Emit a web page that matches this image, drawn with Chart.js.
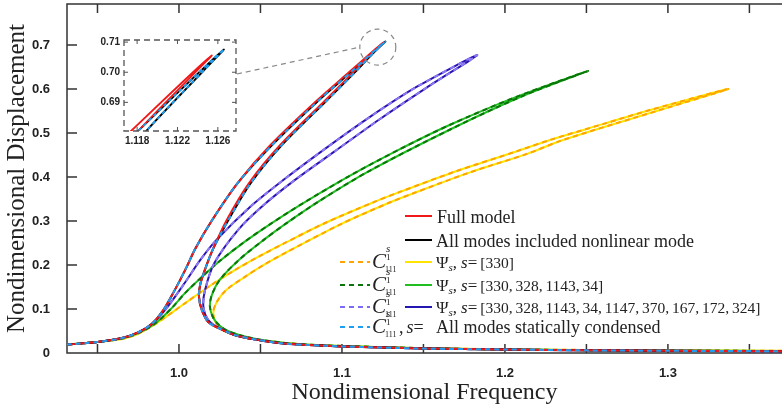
<!DOCTYPE html>
<html>
<head>
<meta charset="utf-8">
<script src="https://cdn.jsdelivr.net/npm/chart.js@4.4.1/dist/chart.umd.min.js"></script>
<style>
  body { margin: 0; background: #fff; }
  #wrap { position: relative; width: 782px; height: 410px; }
  #mainChart { position: absolute; left: 0; top: 0; }
  #insetChart { position: absolute; left: 95px; top: 33px; }
</style>
</head>
<body>
<div id="wrap">
  <canvas id="mainChart" width="782" height="410"></canvas>
  <canvas id="insetChart" width="150" height="118"></canvas>
</div>
<script>
// ---- data (frequency, displacement) ----
// full model (red)
const fullX = [0.931, 0.95, 0.965, 0.975, 0.983, 0.990, 0.997, 1.004, 1.010, 1.020, 1.036, 1.056, 1.085, 1.105, 1.1174, 1.1254,
  1.1181, 1.1075, 1.090, 1.062, 1.043, 1.029, 1.021, 1.016, 1.013, 1.0123, 1.014, 1.018, 1.024, 1.034, 1.048, 1.063, 1.08, 1.10, 1.15, 1.20, 1.25, 1.30, 1.37];
const fullY = [0.019, 0.025, 0.034, 0.047, 0.065, 0.095, 0.14, 0.19, 0.237, 0.30, 0.386, 0.472, 0.575, 0.640, 0.6805, 0.7056,
  0.6805, 0.640, 0.575, 0.472, 0.386, 0.30, 0.237, 0.19, 0.155, 0.127, 0.098, 0.070, 0.057, 0.041, 0.030, 0.022, 0.018, 0.015, 0.010, 0.008, 0.006, 0.005, 0.004];
// all modes (black) / statically condensed (light blue dashed)
const condX = [0.931, 0.95, 0.965, 0.975, 0.983, 0.990, 0.997, 1.004, 1.010, 1.020, 1.036, 1.057, 1.086, 1.106, 1.1181, 1.1266,
  1.1189, 1.1085, 1.091, 1.063, 1.044, 1.030, 1.021, 1.016, 1.013, 1.0123, 1.014, 1.018, 1.024, 1.034, 1.048, 1.063, 1.08, 1.10, 1.15, 1.20, 1.25, 1.30, 1.37];
const condY = [0.019, 0.025, 0.034, 0.047, 0.065, 0.095, 0.14, 0.19, 0.237, 0.30, 0.386, 0.472, 0.575, 0.640, 0.6805, 0.7076,
  0.6805, 0.640, 0.575, 0.472, 0.386, 0.30, 0.237, 0.19, 0.155, 0.127, 0.098, 0.070, 0.057, 0.041, 0.030, 0.022, 0.018, 0.015, 0.010, 0.008, 0.006, 0.005, 0.004];
// psi, 9 modes (purple)
const purpX = [0.931, 0.95, 0.965, 0.975, 0.984, 0.993, 1.0035, 1.013, 1.023, 1.0436, 1.064, 1.09, 1.117, 1.146, 1.183,
  1.152, 1.1227, 1.0955, 1.070, 1.0506, 1.0363, 1.0218, 1.016, 1.015, 1.018, 1.024, 1.034, 1.048, 1.063, 1.08, 1.10, 1.15, 1.20, 1.25, 1.30, 1.37];
const purpY = [0.019, 0.025, 0.034, 0.047, 0.068, 0.105, 0.159, 0.211, 0.257, 0.332, 0.393, 0.465, 0.536, 0.605, 0.677,
  0.603, 0.530, 0.458, 0.390, 0.332, 0.280, 0.205, 0.143, 0.105, 0.075, 0.058, 0.041, 0.030, 0.022, 0.018, 0.015, 0.010, 0.008, 0.006, 0.005, 0.004];
// psi, 4 modes (green)
const greenX = [0.931, 0.95, 0.965, 0.975, 0.985, 0.995, 1.0037, 1.015, 1.025, 1.04, 1.056, 1.076, 1.105, 1.135, 1.166, 1.207, 1.251,
  1.2115, 1.167, 1.1155, 1.086, 1.066, 1.052, 1.0366, 1.025, 1.020, 1.019, 1.021, 1.025, 1.030, 1.038, 1.05, 1.065, 1.08, 1.10, 1.15, 1.20, 1.25, 1.30, 1.37];
const greenY = [0.019, 0.025, 0.033, 0.045, 0.066, 0.10, 0.136, 0.176, 0.209, 0.252, 0.293, 0.340, 0.403, 0.462, 0.518, 0.582, 0.641,
  0.585, 0.509, 0.411, 0.345, 0.295, 0.257, 0.211, 0.166, 0.13, 0.105, 0.08, 0.062, 0.050, 0.040, 0.030, 0.023, 0.019, 0.016, 0.011, 0.008, 0.0065, 0.0055, 0.0045];
// psi, 1 mode (yellow)
const yelX = [0.931, 0.95, 0.965, 0.974, 0.982, 0.990, 1.0037, 1.02, 1.035, 1.05, 1.065, 1.09, 1.121, 1.1356, 1.17, 1.207, 1.2276, 1.26, 1.289, 1.337,
  1.295, 1.2356, 1.214, 1.179, 1.1446, 1.130, 1.100, 1.065, 1.052, 1.040, 1.029, 1.023, 1.021, 1.023, 1.028, 1.039, 1.05, 1.065, 1.08, 1.10, 1.15, 1.20, 1.25, 1.30, 1.37];
const yelY = [0.019, 0.025, 0.032, 0.042, 0.058, 0.077, 0.113, 0.155, 0.19, 0.221, 0.25, 0.296, 0.345, 0.366, 0.413, 0.458, 0.484, 0.52, 0.552, 0.600,
  0.552, 0.484, 0.453, 0.411, 0.364, 0.343, 0.294, 0.227, 0.200, 0.172, 0.143, 0.115, 0.090, 0.066, 0.050, 0.036, 0.029, 0.023, 0.019, 0.016, 0.011, 0.0085, 0.007, 0.006, 0.005];

// ticks
const xTicks = [0.95, 1.0, 1.05, 1.1, 1.15, 1.2, 1.25, 1.3, 1.35];
const xTickLabels = ['', '1.0', '', '1.1', '', '1.2', '', '1.3', ''];
const yTicks = [0, 0.1, 0.2, 0.3, 0.4, 0.5, 0.6, 0.7];
const yTickLabels = ['0', '0.1', '0.2', '0.3', '0.4', '0.5', '0.6', '0.7'];
const insetXTicks = [1.118, 1.122, 1.126];
const insetXLabels = ['1.118', '1.122', '1.126'];
const insetYTicks = [0.69, 0.70, 0.71];
const insetYLabels = ['0.69', '0.70', '0.71'];

// legend texts
const legendNames = ['Full model', 'All modes included nonlinear mode'];
const psiSets = ['[330]', '[330, 328, 1143, 34]', '[330, 328, 1143, 34, 1147, 370, 167, 172, 324]'];
const condensedName = 'All modes statically condensed';

const pts = (xs, ys) => xs.map((x, i) => ({ x: x, y: ys[i] }));

function makeDatasets(w) {
  return [
    { data: pts(condX, condY), borderColor: '#1e9ef0', borderWidth: w, borderDash: [5, 4] },
    { data: pts(fullX, fullY), borderColor: '#f01818', borderWidth: w },
    { data: pts(condX, condY), borderColor: '#000000', borderWidth: w },
    { data: pts(purpX, purpY), borderColor: '#8a78f4', borderWidth: w, borderDash: [5, 4] },
    { data: pts(purpX, purpY), borderColor: '#2a14b0', borderWidth: w },
    { data: pts(greenX, greenY), borderColor: '#0a760a', borderWidth: w, borderDash: [5, 4] },
    { data: pts(greenX, greenY), borderColor: '#1fbf1f', borderWidth: w },
    { data: pts(yelX, yelY), borderColor: '#ffa400', borderWidth: w, borderDash: [5, 4] },
    { data: pts(yelX, yelY), borderColor: '#ffe400', borderWidth: w },
  ].map(d => Object.assign(d, { showLine: true, pointRadius: 0, tension: 0.3, fill: false }));
}

const AXIS = '#333';

// frame with inward ticks, plus zoom circle and connector
const framePlugin = {
  id: 'frame',
  beforeDatasetsDraw(chart) {
    const { ctx, chartArea: a, scales: { x, y } } = chart;
    ctx.save();
    ctx.strokeStyle = AXIS;
    ctx.lineWidth = 1.5;
    ctx.beginPath();
    ctx.moveTo(a.right, a.top); ctx.lineTo(a.left, a.top);
    ctx.lineTo(a.left, a.bottom); ctx.lineTo(a.right, a.bottom);
    xTicks.forEach(v => {
      const p = x.getPixelForValue(v);
      ctx.moveTo(p, a.bottom); ctx.lineTo(p, a.bottom - 9);
      ctx.moveTo(p, a.top); ctx.lineTo(p, a.top + 9);
    });
    yTicks.forEach(v => {
      const p = y.getPixelForValue(v);
      ctx.moveTo(a.left, p); ctx.lineTo(a.left + 10, p);
    });
    ctx.stroke();
    ctx.restore();
  },
  afterDraw(chart) {
    const { ctx, scales: { x, y } } = chart;
    ctx.save();
    ctx.strokeStyle = '#888';
    ctx.lineWidth = 1.2;
    ctx.setLineDash([5, 4]);
    const cx = x.getPixelForValue(1.122), cy = y.getPixelForValue(0.695);
    ctx.beginPath();
    ctx.arc(cx, cy, 18, 0, Math.PI * 2);
    ctx.stroke();
    ctx.beginPath();
    ctx.moveTo(237, 74);
    ctx.lineTo(cx - 18, cy);
    ctx.stroke();
    ctx.restore();
    drawLegend(ctx);
  }
};

function sample(ctx, x1, x2, y, color, dashed) {
  ctx.save();
  ctx.strokeStyle = color;
  ctx.lineWidth = 2;
  ctx.setLineDash(dashed ? [5, 4] : []);
  ctx.beginPath();
  ctx.moveTo(x1, y); ctx.lineTo(x2, y);
  ctx.stroke();
  ctx.restore();
}

function put(ctx, text, x, y, font) {
  ctx.font = font;
  ctx.fillText(text, x, y);
  return x + ctx.measureText(text).width;
}

const SERIF = '"Liberation Serif", "DejaVu Serif", serif';

function drawC(ctx, x, base) {
  const e = put(ctx, 'C', x, base, 'italic 21px ' + SERIF);
  put(ctx, 's', e, base - 16, 'italic 11px ' + SERIF);
  put(ctx, '1', e, base - 8, '9px ' + SERIF);
  return put(ctx, '111', e - 1, base + 4, '8px ' + SERIF);
}

function drawPsi(ctx, x, base, set) {
  let e = put(ctx, 'Ψ', x, base, '17px ' + SERIF);
  e = put(ctx, 's', e, base + 3, 'italic 11px ' + SERIF);
  e = put(ctx, ',', e, base, '17px ' + SERIF);
  e = put(ctx, 's', e + 4, base, 'italic 17px ' + SERIF);
  e = put(ctx, '=', e, base, '17px ' + SERIF);
  ctx.wordSpacing = '-1px';
  put(ctx, set, e + 3, base, '15.5px ' + SERIF);
  ctx.wordSpacing = '0px';
}

function drawLegend(ctx) {
  ctx.save();
  ctx.fillStyle = '#222';
  ctx.textBaseline = 'alphabetic';
  const rows = [216, 240, 262, 285, 307, 327];
  const dashCol = ['#ffa400', '#0a760a', '#7b6cf6', '#1e9ef0'];
  const solidCol = ['#ffe400', '#1fbf1f', '#2416b0'];
  sample(ctx, 405, 432, rows[0], '#f01818', false);
  put(ctx, legendNames[0], 437, rows[0] + 7, '18px ' + SERIF);
  sample(ctx, 405, 432, rows[1], '#000', false);
  put(ctx, legendNames[1], 436, rows[1] + 7, '18px ' + SERIF);
  psiSets.forEach((s, i) => {
    const r = rows[i + 2];
    sample(ctx, 340, 370, r, dashCol[i], true);
    drawC(ctx, 372, r + 6);
    sample(ctx, 405, 432, r, solidCol[i], false);
    drawPsi(ctx, 436, r + 6, s);
  });
  const r = rows[5];
  sample(ctx, 340, 370, r, dashCol[3], true);
  drawC(ctx, 372, r + 6);
  let e = put(ctx, ',', 399, r + 6, '18px ' + SERIF);
  e = put(ctx, 's', e + 3, r + 6, 'italic 18px ' + SERIF);
  put(ctx, '=', e, r + 6, '18px ' + SERIF);
  put(ctx, condensedName, 436, r + 6, '18px ' + SERIF);
  ctx.restore();
}

const TICKFONT = { family: '"Liberation Sans", Arial, sans-serif', size: 13, weight: 'bold' };

new Chart(document.getElementById('mainChart'), {
  type: 'scatter',
  data: { datasets: makeDatasets(2) },
  options: {
    responsive: false,
    animation: false,
    layout: { padding: { top: 4, right: 0, left: 0, bottom: 0 } },
    elements: { line: { capBezierPoints: false } },
    plugins: { legend: { display: false }, tooltip: { enabled: false } },
    scales: {
      x: {
        type: 'linear', min: 0.9313, max: 1.370,
        afterBuildTicks: s => { s.ticks = xTicks.map(v => ({ value: v })); },
        afterFit: s => { s.height = 57; s.paddingLeft = 0; s.paddingRight = 0; },
        grid: { display: false },
        border: { display: false },
        ticks: { autoSkip: false, maxRotation: 0, padding: 5, color: '#222', font: TICKFONT,
          callback: (v, i) => xTickLabels[i] },
        title: { display: true, text: 'Nondimensional Frequency', color: '#222',
          font: { family: SERIF, size: 24 }, padding: { top: 0, bottom: 3 } }
      },
      y: {
        type: 'linear', min: 0, max: 0.793,
        afterBuildTicks: s => { s.ticks = yTicks.map(v => ({ value: v })); },
        afterFit: s => { s.width = 67; s.paddingTop = 0; s.paddingBottom = 0; },
        grid: { display: false },
        border: { display: false },
        ticks: { autoSkip: false, padding: 9, color: '#222', font: TICKFONT,
          callback: (v, i) => yTickLabels[i] },
        title: { display: true, text: 'Nondimensional Displacement', color: '#222',
          font: { family: SERIF, size: 25 }, padding: { top: 2, bottom: 0 } }
      }
    }
  },
  plugins: [framePlugin]
});

// inset zoom around the tip of the full-model curve
const insetPlugin = {
  id: 'insetFrame',
  afterDraw(chart) {
    const { ctx, chartArea: a, scales: { x, y } } = chart;
    ctx.save();
    ctx.strokeStyle = '#555';
    ctx.lineWidth = 1.3;
    ctx.setLineDash([6, 4]);
    ctx.strokeRect(a.left, a.top, a.right - a.left, a.bottom - a.top);
    ctx.setLineDash([]);
    ctx.lineWidth = 1;
    ctx.beginPath();
    insetYTicks.forEach(v => {
      const p = y.getPixelForValue(v);
      ctx.moveTo(a.left, p); ctx.lineTo(a.left + 4, p);
      ctx.moveTo(a.right, p); ctx.lineTo(a.right - 4, p);
    });
    insetXTicks.forEach(v => {
      const p = x.getPixelForValue(v);
      ctx.moveTo(p, a.bottom); ctx.lineTo(p, a.bottom - 4);
      ctx.moveTo(p, a.top); ctx.lineTo(p, a.top + 4);
    });
    ctx.stroke();
    ctx.fillStyle = '#222';
    ctx.font = 'bold 10px "Liberation Sans", Arial, sans-serif';
    ctx.textAlign = 'right';
    ctx.textBaseline = 'middle';
    insetYTicks.forEach((v, i) => ctx.fillText(insetYLabels[i], a.left - 4, y.getPixelForValue(v)));
    ctx.textAlign = 'center';
    ctx.textBaseline = 'top';
    insetXTicks.forEach((v, i) => ctx.fillText(insetXLabels[i], x.getPixelForValue(v), a.bottom + 5));
    ctx.restore();
  }
};

new Chart(document.getElementById('insetChart'), {
  type: 'scatter',
  data: { datasets: makeDatasets(1.8).slice(0, 3).map(d => Object.assign(d, { clip: 0, borderDash: d.borderDash ? [4, 3] : [] })) },
  options: {
    responsive: false,
    animation: false,
    layout: { padding: { left: 29, top: 7, right: 9, bottom: 20 } },
    elements: { line: { capBezierPoints: false } },
    plugins: { legend: { display: false }, tooltip: { enabled: false } },
    scales: {
      x: { type: 'linear', display: false, min: 1.1167, max: 1.1278 },
      y: { type: 'linear', display: false, min: 0.6805, max: 0.7107 }
    }
  },
  plugins: [insetPlugin]
});
</script>
</body>
</html>
